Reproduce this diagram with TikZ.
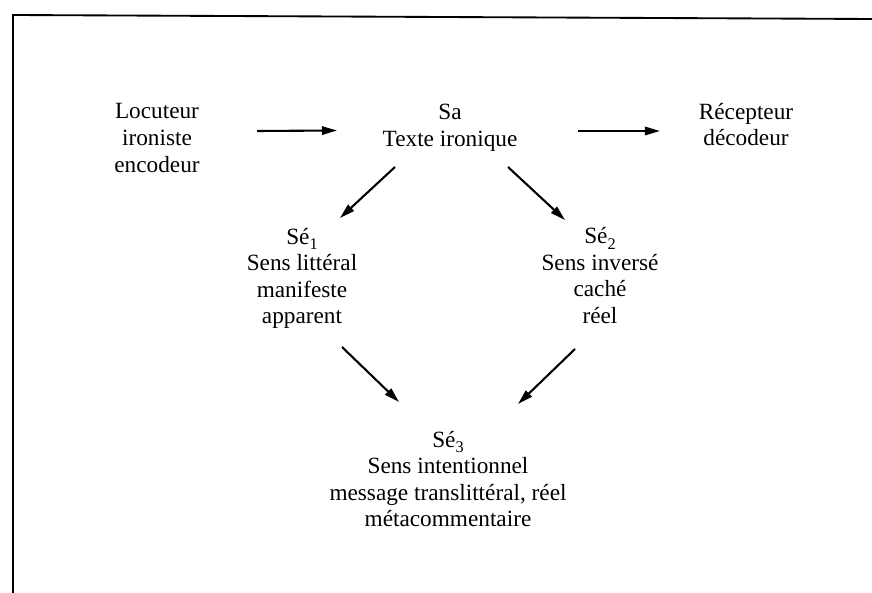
\documentclass[tikz,border=0pt]{standalone}
\usepackage{fontspec}
\setmainfont{Liberation Serif}
\usetikzlibrary{arrows.meta}
\newcommand{\idx}[1]{\raisebox{-0.5ex}{\fontsize{7}{7}\selectfont #1}}

\begin{document}
\begin{tikzpicture}[x=0.43pt,y=-0.43pt,
    txt/.style={align=center,inner sep=0pt,font=\fontsize{10}{11.4}\selectfont},
    arr/.style={-{Triangle[length=6.5pt,width=3.6pt]},line width=0.9pt}]
      \useasboundingbox (0,0) rectangle (872,593);
      \draw[line width=0.8pt] (13,593) -- (13,15) -- (872,19);

      \node[txt] (1) at (157,138) {Locuteur\\ironiste\\encodeur};
      \node[txt] (2) at (450,128) {Sa\\Texte ironique};
      \node[txt] (3) at (746,124.5) {Récepteur\\décodeur};
      \node[txt] (4) at (302,278.5) {Sé\idx{1}\\Sens littéral\\manifeste\\apparent};
      \node[txt] (5) at (600,275.5) {Sé\idx{2}\\Sens inversé\\caché\\réel};
      \node[txt] (6) at (448,479) {Sé\idx{3}\\Sens intentionnel\\message translittéral, réel\\métacommentaire};

      \draw[arr] ([shift={(100,-7)}]1.center) -- ([shift={(-113,2.5)}]2.center);
      \draw[arr] ([shift={(128,3)}]2.center) -- ([shift={(-86,6.5)}]3.center);
      \draw[arr] ([shift={(-55,39)}]2.center) -- ([shift={(38,-60.5)}]4.center);
      \draw[arr] ([shift={(58,39)}]2.center) -- ([shift={(-35,-55.5)}]5.center);
      \draw[arr] ([shift={(40,68.5)}]4.center) -- ([shift={(-49,-77)}]6.center);
      \draw[arr] ([shift={(-25,73.5)}]5.center) -- ([shift={(70,-75)}]6.center);
    \end{tikzpicture}
\end{document}
